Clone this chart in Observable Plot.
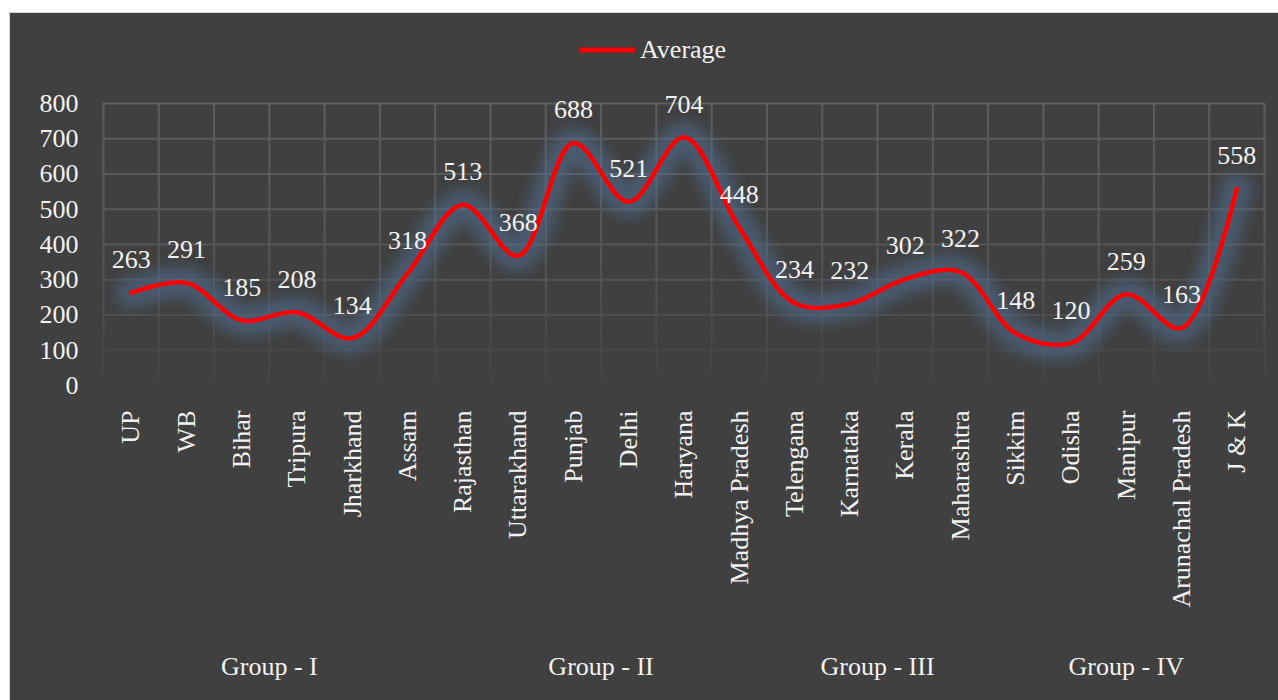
<!DOCTYPE html>
<html>
<head>
<meta charset="utf-8">
<script src="https://cdn.jsdelivr.net/npm/d3@7"></script>
<script src="https://cdn.jsdelivr.net/npm/@observablehq/plot@0.6"></script>
<style>
  html, body { margin: 0; background: #ffffff; }
  #chart {
    position: absolute; left: 9px; top: 12px;
    width: 1269px; height: 687px;
    background: #404040;
    border-top: 1px solid #d4d4d4; border-left: 1px solid #d4d4d4;
    overflow: hidden;
    font-family: "Liberation Serif", "Times New Roman", serif;
    color: #f2f2f2;
  }
  #legend { position: relative; height: 60px; }
  #legend .item {
    position: absolute; left: 570px; top: 23px;
    display: flex; align-items: center; gap: 5px;
    font-size: 26px; line-height: 28px;
  }
  #legend svg { display: block; }
  #chart svg text { font-family: "Liberation Serif", "Times New Roman", serif; }
</style>
</head>
<body>
<div id="chart">
  <div id="legend">
    <div class="item">
      <svg width="55" height="10"><line x1="0" x2="55" y1="5" y2="5" stroke="#ff0000" stroke-width="5"/></svg>
      <span>Average</span>
    </div>
  </div>
</div>
<script>
// States along the x axis, in plotting order
const states = [
  "UP", "WB", "Bihar", "Tripura", "Jharkhand", "Assam",
  "Rajasthan", "Uttarakhand", "Punjab", "Delhi", "Haryana", "Madhya Pradesh",
  "Telengana", "Karnataka", "Kerala", "Maharashtra",
  "Sikkim", "Odisha", "Manipur", "Arunachal Pradesh", "J & K"
];

// Average value per state
const average = [
  263, 291, 185, 208, 134, 318,
  513, 368, 688, 521, 704, 448,
  234, 232, 302, 322,
  148, 120, 259, 163, 558
];

// Second-level category groups and how many states each spans
const groupNames = ["Group - I", "Group - II", "Group - III", "Group - IV"];
const groupSizes = [6, 6, 4, 5];

// Value axis ticks
const yTicks = [0, 100, 200, 300, 400, 500, 600, 700, 800];

const rows = states.map((s, i) => ({i, state: s, value: average[i]}));

let start = 0;
const groups = groupNames.map((name, k) => {
  const g = {name, center: start + (groupSizes[k] - 1) / 2};
  start += groupSizes[k];
  return g;
});

const boundaries = d3.range(states.length + 1).map(i => i - 0.5);
const font = '"Liberation Serif", "Times New Roman", serif';
const grid = "url(#gridFade)";
const textStyle = {fontSize: 26, fontFamily: font, fill: "#f2f2f2"};

const chart = Plot.plot({
  width: 1268,
  height: 627,
  marginTop: 30,
  marginBottom: 315,
  marginLeft: 93,
  marginRight: 14,
  style: {background: "transparent", color: "#f2f2f2", fontFamily: font, fontSize: "26px"},
  x: {type: "linear", domain: [-0.5, states.length - 0.5], label: null},
  y: {domain: [0, 800], label: null},
  marks: [
    Plot.ruleY(yTicks, {stroke: grid, strokeWidth: 2}),
    Plot.ruleX(boundaries, {y1: 0, y2: 800, stroke: grid, strokeWidth: 2}),
    // wide soft band behind the line
    Plot.line(rows, {
      x: "i", y: "value", curve: "catmull-rom",
      stroke: "#4e6d90", strokeOpacity: 0.6, strokeWidth: 30
    }),
    Plot.line(rows, {x: "i", y: "value", curve: "catmull-rom", stroke: "#ff0000", strokeWidth: 4.5}),
    Plot.text(rows, {x: "i", y: "value", text: d => String(d.value), dy: -33, ...textStyle}),
    Plot.axisY({ticks: yTicks, tickSize: 0, tickPadding: 25, ...textStyle, label: null}),
    Plot.axisX({
      ticks: d3.range(states.length), tickFormat: i => states[i],
      tickRotate: -90, tickSize: 0, tickPadding: 25, ...textStyle, label: null
    }),
    Plot.text(groups, {x: "center", y: () => 0, text: "name", dy: 281, ...textStyle})
  ]
});

// Defs: fading grid stroke and a blur for the glow band
const y = chart.scale("y");
const ns = "http://www.w3.org/2000/svg";
const defs = document.createElementNS(ns, "defs");
const grad = document.createElementNS(ns, "linearGradient");
grad.setAttribute("id", "gridFade");
grad.setAttribute("gradientUnits", "userSpaceOnUse");
grad.setAttribute("x1", 0); grad.setAttribute("x2", 0);
grad.setAttribute("y1", y.apply(800)); grad.setAttribute("y2", y.apply(0));
[["0", "#5e5e5e"], ["0.45", "#585858"], ["0.75", "#4d4d4d"], ["1", "#424242"]].forEach(([o, c]) => {
  const s = document.createElementNS(ns, "stop");
  s.setAttribute("offset", o);
  s.setAttribute("stop-color", c);
  grad.appendChild(s);
});
defs.appendChild(grad);

const filter = document.createElementNS(ns, "filter");
filter.setAttribute("id", "glowBlur");
filter.setAttribute("filterUnits", "userSpaceOnUse");
filter.setAttribute("x", 0); filter.setAttribute("y", 0);
filter.setAttribute("width", 1268); filter.setAttribute("height", 627);
const blur = document.createElementNS(ns, "feGaussianBlur");
blur.setAttribute("stdDeviation", 7);
filter.appendChild(blur);
defs.appendChild(filter);
chart.insertBefore(defs, chart.firstChild);

chart.querySelectorAll('g[stroke-width="30"]').forEach(g => g.setAttribute("filter", "url(#glowBlur)"));

chart.style.display = "block";
chart.style.maxWidth = "none";
document.getElementById("chart").appendChild(chart);
</script>
</body>
</html>
